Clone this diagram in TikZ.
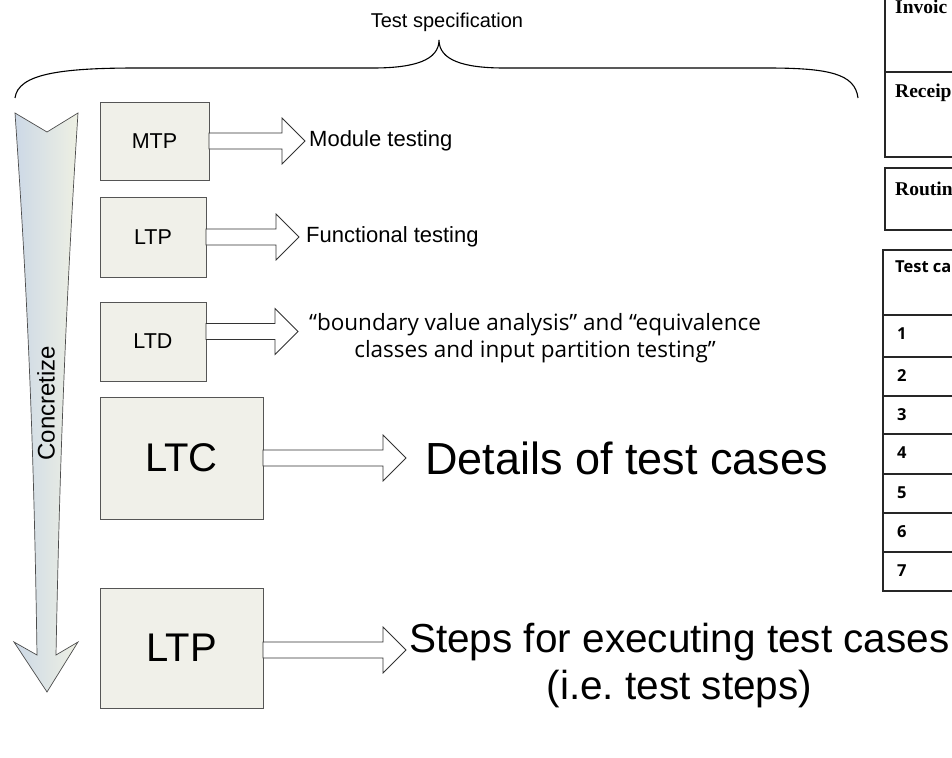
\documentclass[tikz,border=0pt]{standalone}
\usepackage{fontspec}
\setmainfont{Liberation Sans}
\newfontfamily\osans{Open Sans}
\newfontfamily\tserif{Liberation Serif}
\definecolor{boxfill}{RGB}{240,240,233}
\definecolor{boxline}{RGB}{85,85,85}
\definecolor{arrblue}{RGB}{204,216,230}
\definecolor{arrbeige}{RGB}{238,240,227}
\tikzset{
  box/.style={draw=boxline, fill=boxfill, line width=0.9pt, inner sep=0pt, outer sep=0pt},
  smallbox/.style={box, font=\fontsize{21.5}{25}\selectfont},
  bigbox/.style={box, font=\fontsize{40}{46}\selectfont},
  blockarr/.style={draw=black!80, fill=white, line width=0.8pt, line join=miter},
  lbl/.style={inner sep=0pt, anchor=west, font=\fontsize{22}{26}\selectfont},
  biglbl/.style={inner sep=0pt, anchor=west},
  tbl/.style={draw=black!85, line width=1.3pt},
  serifhead/.style={inner sep=0pt, anchor=base west, font=\tserif\bfseries\fontsize{19.5}{23}\selectfont},
  sanshead/.style={inner sep=0pt, anchor=base west, font=\osans\bfseries\fontsize{16.5}{20}\selectfont},
}
% block arrow from east side of a node: #1 node, #2 vertical offset, #3 shaft length
\newcommand\blockarrow[3]{%
  \draw[blockarr] (#1.east) ++(0,#2) ++(0,-8) -- ++(#3,0) -- ++(0,-15) -- ++(23,23) -- ++(-23,23) -- ++(0,-15) -- ++(-#3,0) -- cycle;}
\begin{document}
\frenchspacing
\begin{tikzpicture}[x=1pt,y=-1pt]
\useasboundingbox (0,0) rectangle (952,757);
\clip (0,0) rectangle (952,757);

% brace
\coordinate (bl) at (15,98);
\coordinate (br) at (858,98);
\coordinate (btip) at (439,40);
\draw[line width=1.1pt] (bl) .. controls (18,74) and (60,68) .. (137,68) -- (373,68)
  .. controls (415,68) and (439,60) .. (btip)
  .. controls (439,60) and (463,68) .. (504,68) -- (767,68)
  .. controls (830,68) and (855,74) .. (br);
\node[inner sep=0pt, font=\fontsize{20}{24}\selectfont] (spec) at (447,22) {Test specification};

% concretize arrow
\shade[left color=arrblue, right color=arrbeige, draw=black!70, line width=0.7pt]
  (15,113) -- (47,132) -- (78,113)
  .. controls (66,300) and (60,450) .. (56,655)
  -- (78,642) -- (47,692) -- (14,642) -- (37,655)
  .. controls (34,450) and (28,300) .. (15,113) -- cycle;
\node[rotate=90, inner sep=0pt, font=\fontsize{24}{28}\selectfont] (conc) at (46,403) {Concretize};

% boxes
\node[smallbox, minimum width=109pt, minimum height=78pt] (mtp) at (154.5,141) {MTP};
\node[smallbox, minimum width=106pt, minimum height=80pt] (ltp) at (153,237) {LTP};
\node[smallbox, minimum width=106pt, minimum height=79pt] (ltd) at (153,341.5) {LTD};
\node[bigbox, minimum width=163pt, minimum height=122pt] (ltc) at (181.5,458) {LTC};
\node[bigbox, minimum width=163pt, minimum height=120pt] (ltp2) at (181.5,648) {LTP};

% block arrows
\blockarrow{mtp}{0}{73}
\blockarrow{ltp}{0}{70}
\blockarrow{ltd}{-10}{69}
\blockarrow{ltc}{0}{120}
\blockarrow{ltp2}{2}{120}

% labels
\node[lbl] (mt) at (309,141) {Module testing};
\node[lbl] (ft) at (306,237) {Functional testing};
\node[inner sep=0pt, align=center, font=\osans\fontsize{22.5}{27}\selectfont] (bva) at (535,338)
  {“boundary value analysis” and “equivalence\\classes and input partition testing”};
\node[biglbl, font=\fontsize{45}{52}\selectfont] (dt) at (425,458) {Details of test cases};
\node[biglbl, align=center, font=\fontsize{40.5}{47}\selectfont] (st) at (409,666) {Steps for executing test cases\\(i.e.\ test steps)};

% right-hand tables (cut off at the edge)
\draw[tbl] (885,-5) -- (885,157) -- (960,157);
\draw[tbl] (885,72) -- (960,72);
\node[serifhead] (inv) at (895,14) {Invoic};
\node[serifhead] (rec) at (895,98) {Receip};
\draw[tbl] (960,168) -- (885,168) -- (885,230) -- (960,230);
\node[serifhead] (rou) at (895,195) {Routin};
\draw[tbl] (960,250) -- (883,250) -- (883,591) -- (960,591);
\foreach \yy in {315,357,396,434,474,513,552} { \draw[tbl] (883,\yy) -- (960,\yy); }
\node[sanshead] (tc) at (895,272) {Test ca};
\foreach \n/\yy in {1/315,2/357,3/396,4/434,5/474,6/513,7/552} {
  \node[sanshead] (r\n) at (897,\yy+24) {\n};
}
\end{tikzpicture}
\end{document}
